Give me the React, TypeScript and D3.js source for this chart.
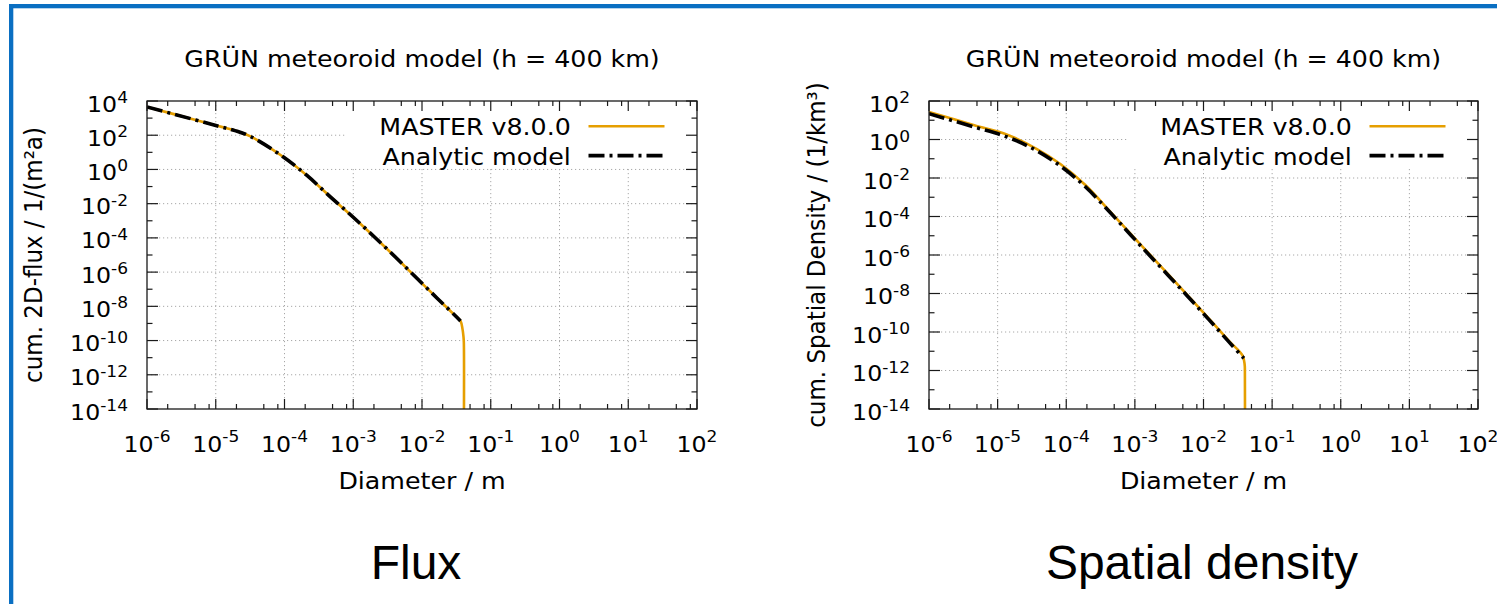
import React from 'react';
import * as d3 from 'd3';

// Axis tick definitions (decimal exponents)
const xTickExponents = [-6, -5, -4, -3, -2, -1, 0, 1, 2];
const xMinorFactors = [2, 5, 8];
const fluxYTickExponents = [4, 2, 0, -2, -4, -6, -8, -10, -12, -14];
const densityYTickExponents = [2, 0, -2, -4, -6, -8, -10, -12, -14];

// Cumulative 2D flux, 1/(m²a)
const fluxMasterDiameter = [1e-6, 5.1e-6, 1.12e-5, 1.9e-5, 3.2e-5, 9.3e-5, 2.1e-4, 4.6e-4, 1.0e-3, 2.0e-3, 4.1e-3, 8.5e-3, 1.66e-2, 2.95e-2, 3.63e-2, 3.89e-2, 4.01e-2, 4.06e-2, 4.06e-2];
const fluxMaster = [4.5e3, 776, 331, 186, 85, 5.9, 0.46, 0.026, 1.6e-3, 1.2e-4, 7.6e-6, 4.2e-7, 3.0e-8, 3.2e-9, 1.4e-9, 4.5e-10, 1.7e-10, 8e-11, 1e-16];
const fluxAnalyticDiameter = [1e-6, 5.1e-6, 1.12e-5, 1.9e-5, 3.2e-5, 9.3e-5, 2.1e-4, 4.6e-4, 1.0e-3, 2.0e-3, 4.1e-3, 8.5e-3, 1.66e-2, 2.95e-2, 3.63e-2];
const fluxAnalytic = [4.5e3, 776, 331, 186, 85, 5.9, 0.46, 0.026, 1.6e-3, 1.2e-4, 7.6e-6, 4.2e-7, 3.0e-8, 3.2e-9, 1.4e-9];

// Cumulative spatial density, 1/km³
const densityMasterDiameter = [1e-6, 4.57e-6, 1.38e-5, 3.63e-5, 8.3e-5, 1.9e-4, 4.37e-4, 8.7e-4, 1.51e-3, 3.0e-3, 6.0e-3, 1.2e-2, 2.4e-2, 3.72e-2, 3.98e-2, 4.01e-2, 4.01e-2];
const densityMaster = [26.9, 5.5, 1.78, 0.34, 0.052, 4.3e-3, 1.8e-4, 1.25e-5, 1.5e-6, 1.07e-7, 7.4e-9, 5.0e-10, 3.2e-11, 5.9e-12, 2.0e-12, 1.1e-12, 1e-16];
const densityAnalyticDiameter = [1e-6, 4.57e-6, 1.38e-5, 3.63e-5, 8.3e-5, 1.9e-4, 4.37e-4, 8.7e-4, 1.51e-3, 3.0e-3, 6.0e-3, 1.2e-2, 2.4e-2, 3.87e-2];
const densityAnalytic = [21.9, 4.47, 1.35, 0.275, 0.041, 3.5e-3, 1.6e-4, 1.1e-5, 1.3e-6, 9.5e-8, 6.6e-9, 4.4e-10, 2.8e-11, 4.3e-12];

const seriesNames = ['MASTER v8.0.0', 'Analytic model'];
const plotTitle = 'GRÜN meteoroid model (h = 400 km)';
const xLabel = 'Diameter / m';

const FONT = 'DejaVu Sans';
const SX = 1.1; // horizontal stretch of the plot lettering
const ORANGE = '#E69F00';
const DASH = '16,5,3,5';

type PanelProps = {
  id: string;
  x0: number;
  x1: number;
  y0: number;
  y1: number;
  yMinExp: number;
  yMaxExp: number;
  yTicks: number[];
  yLabel: string;
  yLabelX: number;
  masterD: number[];
  masterV: number[];
  analyticD: number[];
  analyticV: number[];
};

function Power({ x, y, exp, anchor, size, supSize, rise }: { x: number; y: number; exp: number; anchor: string; size: number; supSize: number; rise: number }) {
  return (
    <text transform={`translate(${x},${y}) scale(${SX},1)`} textAnchor={anchor} fontFamily={FONT} fontSize={size} fill="#000">
      10
      <tspan dy={-rise} fontSize={supSize}>{String(exp)}</tspan>
    </text>
  );
}

function Panel(p: PanelProps) {
  const x = d3.scaleLog().domain([1e-6, 1e2]).range([p.x0, p.x1]);
  const y = d3.scaleLog().domain([10 ** p.yMinExp, 10 ** p.yMaxExp]).range([p.y1, p.y0]);

  const xMajor = xTickExponents.map((e) => 10 ** e);
  const xMinor: number[] = [];
  xTickExponents.slice(0, -1).forEach((e) => xMinorFactors.forEach((f) => xMinor.push(f * 10 ** e)));
  const yMajor = p.yTicks.map((e) => 10 ** e);
  const yMinor: number[] = [];
  for (let e = p.yMinExp + 1; e < p.yMaxExp; e += 2) yMinor.push(10 ** e);

  const line = d3
    .line<[number, number]>()
    .x((d) => x(d[0]))
    .y((d) => y(d[1]))
    .curve(d3.curveCatmullRom.alpha(0.5));

  const master = line(p.masterD.map((d, i) => [d, p.masterV[i]] as [number, number])) || '';
  const analytic = line(p.analyticD.map((d, i) => [d, p.analyticV[i]] as [number, number])) || '';

  const cx = (p.x0 + p.x1) / 2;
  const cy = (p.y0 + p.y1) / 2;
  const majorLen = 10;
  const minorLen = 5;
  const stroke = '#1a1a1a';

  const lineStart = p.x1 - 108.5;
  const lineEnd = p.x1 - 32.5;
  const rows = [126.3, 155.6];

  return (
    <g>
      <defs>
        <clipPath id={`clip-${p.id}`}>
          <rect x={p.x0} y={p.y0} width={p.x1 - p.x0} height={p.y1 - p.y0} />
        </clipPath>
      </defs>

      {/* grid */}
      <g stroke="#a8a8a8" strokeWidth={1} strokeDasharray="1.2,2.8">
        {xMajor.slice(1, -1).map((v) => (
          <line key={`gx${v}`} x1={x(v)} x2={x(v)} y1={p.y0} y2={p.y1} />
        ))}
        {yMajor.filter((v) => v > 10 ** p.yMinExp && v < 10 ** p.yMaxExp).map((v) => (
          <line key={`gy${v}`} x1={p.x0} x2={p.x1} y1={y(v)} y2={y(v)} />
        ))}
      </g>

      {/* opaque key area */}
      <rect x={p.x1 - 350} y={p.y0} width={350} height={168 - p.y0} fill="#fff" />

      {/* ticks on all four sides */}
      <g stroke={stroke} strokeWidth={1.2}>
        {xMajor.map((v) => (
          <g key={`tx${v}`}>
            <line x1={x(v)} x2={x(v)} y1={p.y1} y2={p.y1 - majorLen} />
            <line x1={x(v)} x2={x(v)} y1={p.y0} y2={p.y0 + majorLen} />
          </g>
        ))}
        {xMinor.map((v) => (
          <g key={`tmx${v}`}>
            <line x1={x(v)} x2={x(v)} y1={p.y1} y2={p.y1 - minorLen} />
            <line x1={x(v)} x2={x(v)} y1={p.y0} y2={p.y0 + minorLen} />
          </g>
        ))}
        {yMajor.map((v) => (
          <g key={`ty${v}`}>
            <line x1={p.x0} x2={p.x0 + majorLen * SX} y1={y(v)} y2={y(v)} />
            <line x1={p.x1} x2={p.x1 - majorLen * SX} y1={y(v)} y2={y(v)} />
          </g>
        ))}
        {yMinor.map((v) => (
          <g key={`tmy${v}`}>
            <line x1={p.x0} x2={p.x0 + minorLen * SX} y1={y(v)} y2={y(v)} />
            <line x1={p.x1} x2={p.x1 - minorLen * SX} y1={y(v)} y2={y(v)} />
          </g>
        ))}
      </g>

      {/* curves */}
      <g clipPath={`url(#clip-${p.id})`} fill="none">
        <path d={master} stroke={ORANGE} strokeWidth={2.6} strokeLinejoin="round" />
        <path d={analytic} stroke="#000" strokeWidth={3.6} strokeDasharray={DASH} />
      </g>

      <rect x={p.x0} y={p.y0} width={p.x1 - p.x0} height={p.y1 - p.y0} fill="none" stroke={stroke} strokeWidth={1.3} />

      {/* tick labels */}
      {xTickExponents.map((e) => (
        <Power key={`lx${e}`} x={x(10 ** e)} y={451.5} exp={e} anchor="middle" size={21.5} supSize={15.5} rise={10} />
      ))}
      {p.yTicks.map((e) => (
        <Power key={`ly${e}`} x={p.x0 - 19} y={y(10 ** e) + 10.5} exp={e} anchor="end" size={21.5} supSize={15.5} rise={8.5} />
      ))}

      {/* titles */}
      <text transform={`translate(${cx},66.5) scale(${SX},1)`} textAnchor="middle" fontFamily={FONT} fontSize={23}>
        {plotTitle}
      </text>
      <text transform={`translate(${cx},488.5) scale(${SX},1)`} textAnchor="middle" fontFamily={FONT} fontSize={23}>
        {xLabel}
      </text>
      <text transform={`translate(${p.yLabelX},${cy}) rotate(-90) scale(1,${SX})`} textAnchor="middle" fontFamily={FONT} fontSize={23}>
        {p.yLabel}
      </text>

      {/* key */}
      {seriesNames.map((name, i) => (
        <text key={name} transform={`translate(${lineStart - 17.7},${rows[i] + 9}) scale(${SX},1)`} textAnchor="end" fontFamily={FONT} fontSize={23}>
          {name}
        </text>
      ))}
      <line x1={lineStart} x2={lineEnd} y1={rows[0]} y2={rows[0]} stroke={ORANGE} strokeWidth={2.6} />
      <line x1={lineStart} x2={lineEnd} y1={rows[1]} y2={rows[1]} stroke="#000" strokeWidth={3.6} strokeDasharray={DASH} />
    </g>
  );
}

export default function App() {
  return (
    <svg width={1497} height={604} style={{ position: 'absolute', left: 0, top: 0, background: '#fff' }}>
      <rect x={0} y={0} width={1497} height={604} fill="#fff" />
      {/* slide border */}
      <rect x={9} y={4} width={1488} height={4.3} fill="#0A6FC2" />
      <rect x={9} y={4} width={4.3} height={600} fill="#0A6FC2" />

      <Panel
        id="flux"
        x0={147}
        x1={697}
        y0={101}
        y1={409}
        yMinExp={-14}
        yMaxExp={4}
        yTicks={fluxYTickExponents}
        yLabel="cum. 2D-flux / 1/(m²a)"
        yLabelX={42}
        masterD={fluxMasterDiameter}
        masterV={fluxMaster}
        analyticD={fluxAnalyticDiameter}
        analyticV={fluxAnalytic}
      />
      <Panel
        id="density"
        x0={929}
        x1={1478}
        y0={101}
        y1={409}
        yMinExp={-14}
        yMaxExp={2}
        yTicks={densityYTickExponents}
        yLabel="cum. Spatial Density / (1/km³)"
        yLabelX={825}
        masterD={densityMasterDiameter}
        masterV={densityMaster}
        analyticD={densityAnalyticDiameter}
        analyticV={densityAnalytic}
      />

      <text x={416} y={579} textAnchor="middle" fontFamily="Liberation Sans" fontSize={48} fill="#000">
        Flux
      </text>
      <text x={1202} y={579} textAnchor="middle" fontFamily="Liberation Sans" fontSize={48} fill="#000">
        Spatial density
      </text>
    </svg>
  );
}
